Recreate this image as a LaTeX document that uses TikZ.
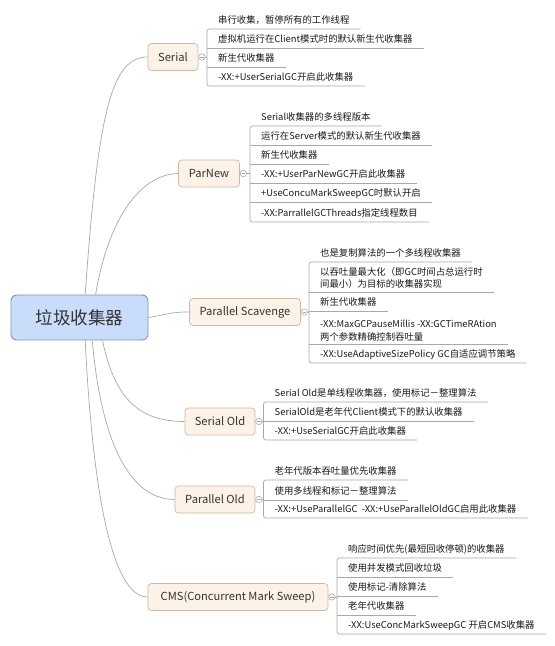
\documentclass[tikz,border=0pt]{standalone}
\usepackage{fontspec}
\setmainfont{Noto Sans CJK SC}
\definecolor{linegray}{HTML}{A8A8A8}
\definecolor{rootfill}{HTML}{C9DDFB}
\definecolor{rootborder}{HTML}{7C95C0}
\definecolor{topicfill}{HTML}{FDF2E7}
\definecolor{topicborder}{HTML}{CDB9A3}
\definecolor{textgray}{HTML}{333333}
\tikzset{
  conn/.style={draw=linegray, line width=0.6pt},
  rootbox/.style={draw=rootborder, fill=rootfill, rounded corners=5pt, line width=0.8pt,
    minimum width=4.11cm, minimum height=1.35cm, font=\fontsize{15}{17}\selectfont, text=textgray},
  topic/.style={draw=topicborder, fill=topicfill, rounded corners=3pt, line width=0.6pt,
    minimum height=0.81cm, inner xsep=0.2cm, font=\fontsize{9.5}{11}\selectfont, text=textgray},
  fold/.style={circle, draw=linegray, fill=white, minimum size=5.5pt, inner sep=0pt, line width=0.5pt,
    path picture={\draw[linegray, line width=0.4pt] ([xshift=-1.4pt]path picture bounding box.center) -- ([xshift=1.4pt]path picture bounding box.center);}},
  leafbase/.style={anchor=south west, inner xsep=0.33cm, inner ysep=2.5pt,
    font=\fontsize{8}{10.6}\selectfont, text=black!90},
  leaf/.style={leafbase, text height=7pt, text depth=2pt},
  leaftwo/.style={leafbase, align=left},
}
\begin{document}
\begin{tikzpicture}[x=0.03cm, y=-0.03cm]
\useasboundingbox (0,0) rectangle (554,646);
\node[rootbox] (root) at (79.5,317.5) {垃圾收集器};
\node[topic, minimum width=1.5cm] (serial) at (173,57) {Serial};
\node[topic, minimum width=1.83cm] (parnew) at (209,173.5) {ParNew};
\node[topic, minimum width=3.33cm] (ps) at (245,312) {Parallel Scavenge};
\node[topic, minimum width=2.1cm] (serialold) at (220,421.5) {Serial Old};
\node[topic, minimum width=2.4cm] (parallelold) at (215,499.5) {Parallel Old};
\node[topic, minimum width=5.4cm] (cms) at (238,597) {CMS(Concurrent Mark Sweep)};
\draw[conn] (root.76) .. controls (98,110) and (112,57) .. (serial.west);
\draw[conn] (root.55) .. controls (110,210) and (145,174) .. (parnew.west);
\draw[conn] (root.east) .. controls (170,314) and (170,312) .. (ps.west);
\draw[conn] (root.-45) .. controls (115,400) and (140,421.5) .. (serialold.west);
\draw[conn] (root.-61) .. controls (100,430) and (125,499.5) .. (parallelold.west);
\draw[conn] (root.-76) .. controls (92,480) and (110,597) .. (cms.west);

\node[leaf] (s1) at (207,29) {串行收集，暂停所有的工作线程};
\node[leaf] (s2) at (207,48) {虚拟机运行在Client模式时的默认新生代收集器};
\node[leaf] (s3) at (207,67) {新生代收集器};
\node[leaf] (s4) at (207,86) {-XX:+UserSerialGC开启此收集器};
\draw[conn, rounded corners=2pt] (s1.south east) -- (s1.south west) -- (s4.south west) -- (s4.south east);
\draw[conn] (s2.south west) -- (s2.south east);
\draw[conn] (s3.south west) -- (s3.south east);
\node[fold] (serialfold) at ([xshift=3pt]serial.east) {};
\draw[conn] (serialfold) -- (serialfold -| s1.south west);

\node[leaf] (p1) at (250,126) {Serial收集器的多线程版本};
\node[leaf] (p2) at (250,145) {运行在Server模式的默认新生代收集器};
\node[leaf] (p3) at (250,164) {新生代收集器};
\node[leaf] (p4) at (250,183) {-XX:+UserParNewGC开启此收集器};
\node[leaf] (p5) at (250,202) {+UseConcuMarkSweepGC时默认开启};
\node[leaf] (p6) at (250,222) {-XX:ParrallelGCThreads指定线程数目};
\draw[conn, rounded corners=2pt] (p1.south east) -- (p1.south west) -- (p6.south west) -- (p6.south east);
\draw[conn] (p2.south west) -- (p2.south east);
\draw[conn] (p3.south west) -- (p3.south east);
\draw[conn] (p4.south west) -- (p4.south east);
\draw[conn] (p5.south west) -- (p5.south east);
\node[fold] (parnewfold) at ([xshift=3pt]parnew.east) {};
\draw[conn] (parnewfold) -- (parnewfold -| p1.south west);

\node[leaf] (v1) at (309,262) {也是复制算法的一个多线程收集器};
\node[leaftwo] (v2) at (309,292) {以吞吐量最大化（即GC时间占总运行时\\间最小）为目标的收集器实现};
\node[leaf] (v3) at (309,311) {新生代收集器};
\node[leaftwo] (v4) at (309,344) {-XX:MaxGCPauseMillis -XX:GCTimeRAtion\\两个参数精确控制吞吐量};
\node[leaf] (v5) at (309,363) {-XX:UseAdaptiveSizePolicy GC自适应调节策略};
\draw[conn, rounded corners=2pt] (v1.south east) -- (v1.south west) -- (v5.south west) -- (v5.south east);
\draw[conn] (v2.south west) -- (v2.south east);
\draw[conn] (v3.south west) -- (v3.south east);
\draw[conn] (v4.south west) -- (v4.south east);
\node[fold] (psfold) at ([xshift=3pt]ps.east) {};
\draw[conn] (psfold) -- (psfold -| v1.south west);

\node[leaf] (o1) at (263.5,402) {Serial Old是单线程收集器，使用标记－整理算法};
\node[leaf] (o2) at (263.5,421) {SerialOld是老年代Client模式下的默认收集器};
\node[leaf] (o3) at (263.5,440) {-XX:+UseSerialGC开启此收集器};
\draw[conn, rounded corners=2pt] (o1.south east) -- (o1.south west) -- (o3.south west) -- (o3.south east);
\draw[conn] (o2.south west) -- (o2.south east);
\node[fold] (serialoldfold) at ([xshift=3pt]serialold.east) {};
\draw[conn] (serialoldfold) -- (serialoldfold -| o1.south west);

\node[leaf] (a1) at (263.5,480) {老年代版本吞吐量优先收集器};
\node[leaf] (a2) at (263.5,500) {使用多线程和标记－整理算法};
\node[leaf] (a3) at (263.5,518) {-XX:+UseParallelGC\ \ -XX:+UseParallelOldGC启用此收集器};
\draw[conn, rounded corners=2pt] (a1.south east) -- (a1.south west) -- (a3.south west) -- (a3.south east);
\draw[conn] (a2.south west) -- (a2.south east);
\node[fold] (parallelfold) at ([xshift=3pt]parallelold.east) {};
\draw[conn] (parallelfold) -- (parallelfold -| a1.south west);

\node[leaf] (c1) at (337,558) {响应时间优先(最短回收停顿)的收集器};
\node[leaf] (c2) at (337,577) {使用并发模式回收垃圾};
\node[leaf] (c3) at (337,596) {使用标记-清除算法};
\node[leaf] (c4) at (337,615) {老年代收集器};
\node[leaf] (c5) at (337,634) {-XX:UseConcMarkSweepGC 开启CMS收集器};
\draw[conn, rounded corners=2pt] (c1.south east) -- (c1.south west) -- (c5.south west) -- (c5.south east);
\draw[conn] (c2.south west) -- (c2.south east);
\draw[conn] (c3.south west) -- (c3.south east);
\draw[conn] (c4.south west) -- (c4.south east);
\node[fold] (cmsfold) at ([xshift=3pt]cms.east) {};
\draw[conn] (cmsfold) -- (cmsfold -| c1.south west);
\end{tikzpicture}
\end{document}
